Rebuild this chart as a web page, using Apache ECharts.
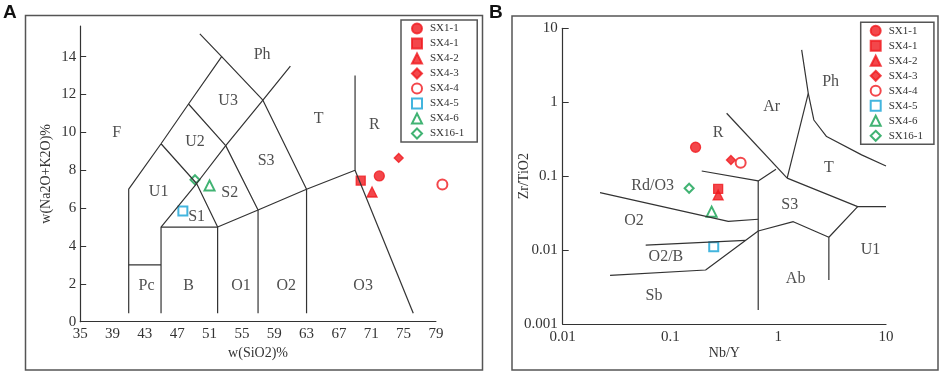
<!DOCTYPE html>
<html>
<head>
<meta charset="utf-8">
<script src="https://cdn.jsdelivr.net/npm/echarts@6/dist/echarts.min.js"></script>
<style>
html,body{margin:0;padding:0;background:#fff}
#chart{width:941px;height:373px}
</style>
</head>
<body>
<div id="chart"></div>
<script>
// samples
const sampleNames = ['SX1-1', 'SX4-1', 'SX4-2', 'SX4-3', 'SX4-4', 'SX4-5', 'SX4-6', 'SX16-1']
const sampleSymbols = ['circle', 'rect', 'triangle', 'diamond', 'emptyCircle', 'emptyRect', 'emptyTriangle', 'emptyDiamond']
const sampleColors = ['#f0191e', '#f0191e', '#f0191e', '#f0191e', '#f0191e', '#14a3d6', '#12a050', '#12a050']
const sampleSizes = [10, 9, 10, 9, 10, 9, 10, 9]

// A: TAS  w(SiO2)% vs w(Na2O+K2O)%
const tasSiO2 = [72.0, 69.7, 71.1, 74.4, 79.8, 47.7, 51.0, 49.2]
const tasAlk = [7.7, 7.45, 6.85, 8.65, 7.25, 5.85, 7.2, 7.5]
const tasXTicks = [35, 39, 43, 47, 51, 55, 59, 63, 67, 71, 75, 79]
const tasYTicks = [0, 2, 4, 6, 8, 10, 12, 14]
const tasLines = [
    [[41, 0.45], [41, 7], [45, 9.4], [48.4, 11.5], [52.5, 14], [49.8, 15.2]],
    [[52.5, 14], [57.6, 11.7], [63, 7], [63, 0.45]],
    [[45, 0.45], [45, 5], [49.4, 7.3], [53, 9.3], [57.6, 11.7], [61, 13.5]],
    [[45, 9.4], [49.4, 7.3], [52, 5], [52, 0.45]],
    [[48.4, 11.5], [53, 9.3], [57, 5.9], [57, 0.45]],
    [[45, 5], [52, 5], [57, 5.9], [63, 7], [69, 8], [69, 13]],
    [[69, 8], [76.2, 0.45]],
    [[41, 3], [45, 3]]
]
const tasFieldNames = ['F', 'Ph', 'U3', 'U2', 'T', 'R', 'S3', 'U1', 'S2', 'S1', 'Pc', 'B', 'O1', 'O2', 'O3']
const tasFieldX = [39.5, 57.5, 53.3, 49.2, 64.5, 71.4, 58, 44.7, 53.5, 49.4, 43.2, 48.4, 54.9, 60.5, 70]
const tasFieldY = [10, 14.1, 11.65, 9.5, 10.7, 10.4, 8.5, 6.85, 6.8, 5.55, 1.9, 1.9, 1.9, 1.9, 1.9]

// B: Nb/Y vs Zr/TiO2
const nbY = [0.171, 0.277, 0.277, 0.364, 0.448, 0.252, 0.241, 0.149]
const zrTi = [0.246, 0.0671, 0.0557, 0.1655, 0.152, 0.0111, 0.0331, 0.0686]
const wfLines = [
    [[0.332, 0.71], [1.21, 0.094]],
    [[0.953, 0.124], [0.652, 0.0861], [0.195, 0.1175]],
    [[0.652, 0.0861], [0.652, 0.00155]],
    [[1.65, 5.1], [1.90, 1.32], [1.21, 0.094]],
    [[1.90, 1.32], [2.14, 0.575], [2.81, 0.343], [5.94, 0.194], [10, 0.137]],
    [[1.21, 0.094], [5.46, 0.0387], [10, 0.0387]],
    [[5.46, 0.0387], [2.95, 0.0149], [2.95, 0.00394]],
    [[2.95, 0.0149], [1.38, 0.0242], [0.652, 0.0181], [0.212, 0.00538], [0.0275, 0.00456]],
    [[0.0222, 0.0598], [0.344, 0.0245], [0.652, 0.0261]],
    [[0.0589, 0.0117], [0.497, 0.0135]]
]
const wfFieldNames = ['Ph', 'Ar', 'R', 'T', 'Rd/O3', 'S3', 'O2', 'U1', 'O2/B', 'Ab', 'Sb']
const wfFieldX = [3.06, 0.869, 0.277, 2.95, 0.0684, 1.28, 0.0458, 7.19, 0.0908, 1.45, 0.0703]
const wfFieldY = [1.9, 0.855, 0.381, 0.128, 0.0743, 0.0407, 0.025, 0.01, 0.00814, 0.00403, 0.00239]

const serif = '"Liberation Serif", "Times New Roman", serif'
const lineColor = '#333'

const chart = echarts.init(document.getElementById('chart'))

const boundarySeries = (lines, idx) => lines.map(pts => ({
    type: 'line',
    xAxisIndex: idx,
    yAxisIndex: idx,
    data: pts,
    symbol: 'none',
    silent: true,
    animation: false,
    lineStyle: { color: lineColor, width: 1.2 }
}))

const fieldSeries = (names, xs, ys, idx) => ({
    type: 'scatter',
    xAxisIndex: idx,
    yAxisIndex: idx,
    symbolSize: 1,
    silent: true,
    clip: false,
    itemStyle: { color: 'rgba(0,0,0,0)' },
    label: {
        show: true,
        position: 'inside',
        formatter: p => p.name,
        fontFamily: serif,
        fontSize: 16,
        color: '#222'
    },
    data: names.map((n, i) => ({ name: n, value: [xs[i], ys[i]] }))
})

const sampleSeries = (xs, ys, idx) => sampleNames.map((n, i) => ({
    type: 'scatter',
    name: n,
    xAxisIndex: idx,
    yAxisIndex: idx,
    symbol: sampleSymbols[i],
    symbolSize: sampleSizes[i],
    clip: false,
    itemStyle: { color: sampleColors[i], borderColor: sampleColors[i], borderWidth: 1.3 },
    data: [[xs[i], ys[i]]]
}))

const legendBase = {
    orient: 'vertical',
    data: sampleNames,
    itemWidth: 10,
    itemHeight: 10,
    itemGap: 3,
    borderColor: '#555',
    borderWidth: 1.5,
    backgroundColor: '#fff',
    textStyle: { fontFamily: serif, fontSize: 11, lineHeight: 11, color: '#333', padding: [0, 0, 0, 3] }
}

const axisLabelStyle = { fontFamily: serif, fontSize: 15, color: '#333' }
const nameStyle = { fontFamily: serif, fontSize: 14, color: '#333' }

const option = {
    animation: false,
    grid: [
        { left: 80.2, top: 26, right: 505.1, bottom: 51.3 },
        { left: 562.7, top: 28.3, right: 55, bottom: 49 }
    ],
    legend: [
        Object.assign({}, legendBase, { left: 401, top: 20, padding: [2.5, 13, 2.5, 10] }),
        Object.assign({}, legendBase, { left: 860.7, top: 22.3, padding: [2.5, 11, 2.5, 9] })
    ],
    xAxis: [
        {
            type: 'value', gridIndex: 0, min: 35, max: 79, interval: 4,
            name: 'w(SiO2)%', nameLocation: 'middle', nameGap: 25, nameMoveOverlap: false,
            nameTextStyle: nameStyle,
            axisLine: { lineStyle: { color: lineColor, width: 1.2 } },
            axisTick: { show: false },
            axisLabel: Object.assign({ margin: 5, customValues: tasXTicks }, axisLabelStyle),
            splitLine: { show: false }
        },
        {
            type: 'log', gridIndex: 1, min: 0.01, max: 10, logBase: 10,
            name: 'Nb/Y', nameLocation: 'middle', nameGap: 22, nameMoveOverlap: false,
            nameTextStyle: nameStyle,
            axisLine: { lineStyle: { color: lineColor, width: 1.2 } },
            axisTick: { show: false },
            axisLabel: Object.assign({ margin: 6 }, axisLabelStyle),
            minorTick: { show: false },
            splitLine: { show: false }
        }
    ],
    yAxis: [
        {
            type: 'value', gridIndex: 0, min: 0, max: 15.62,
            name: 'w(Na2O+K2O)%', nameLocation: 'middle', nameGap: 27, nameMoveOverlap: false,
            nameTextStyle: nameStyle,
            axisLine: { lineStyle: { color: lineColor, width: 1.2 } },
            axisTick: { inside: true, length: 6, customValues: tasYTicks, lineStyle: { color: lineColor } },
            axisLabel: Object.assign({ margin: 4, customValues: tasYTicks }, axisLabelStyle),
            splitLine: { show: false }
        },
        {
            type: 'log', gridIndex: 1, min: 0.001, max: 10, logBase: 10,
            name: 'Zr/TiO2', nameLocation: 'middle', nameGap: 31, nameMoveOverlap: false,
            nameTextStyle: nameStyle,
            axisLine: { lineStyle: { color: lineColor, width: 1.2 } },
            axisTick: { inside: true, length: 6, lineStyle: { color: lineColor } },
            axisLabel: Object.assign({ margin: 5 }, axisLabelStyle),
            splitLine: { show: false }
        }
    ],
    graphic: [
        { type: 'rect', shape: { x: 25.5, y: 15.5, width: 457, height: 354.5 }, style: { fill: null, stroke: '#555', lineWidth: 1.5 }, silent: true },
        { type: 'rect', shape: { x: 512, y: 16, width: 426, height: 354 }, style: { fill: null, stroke: '#555', lineWidth: 1.5 }, silent: true },
        { type: 'text', left: 3, top: 3, style: { text: 'A', font: 'bold 19px "Liberation Sans", Arial, sans-serif', fill: '#111' } },
        { type: 'text', left: 489, top: 3, style: { text: 'B', font: 'bold 19px "Liberation Sans", Arial, sans-serif', fill: '#111' } }
    ],
    series: [].concat(
        boundarySeries(tasLines, 0),
        boundarySeries(wfLines, 1),
        [fieldSeries(tasFieldNames, tasFieldX, tasFieldY, 0)],
        [fieldSeries(wfFieldNames, wfFieldX, wfFieldY, 1)],
        sampleSeries(tasSiO2, tasAlk, 0),
        sampleSeries(nbY, zrTi, 1)
    )
}

chart.setOption(option)
</script>
</body>
</html>
